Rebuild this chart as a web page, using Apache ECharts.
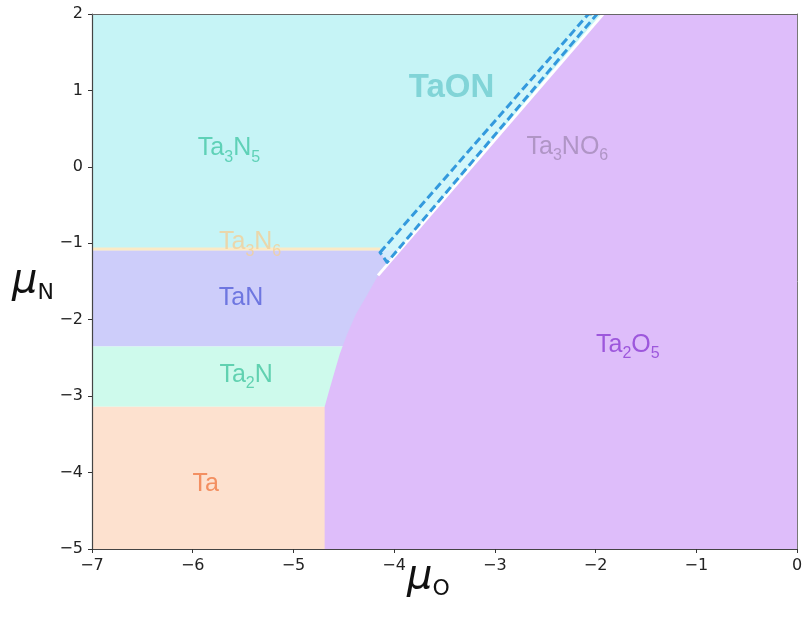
<!DOCTYPE html>
<html>
<head>
<meta charset="utf-8">
<script src="https://cdn.jsdelivr.net/npm/echarts@6/dist/echarts.min.js"></script>
<style>
  html, body { margin: 0; padding: 0; background: #ffffff; }
  #chart { width: 806px; height: 625px; }
</style>
</head>
<body>
<div id="chart"></div>
<script>
// Ta–N–O stability diagram in the (μO, μN) plane

// μN boundaries between the nitride bands (top to bottom)
const bandEdges = [2, -1.09, -2.35, -3.14, -5];
const bandPhases = ['Ta3N5', 'TaN', 'Ta2N', 'Ta'];
const bandColors = ['#c6f4f6', '#cdcdfa', '#cefaec', '#fde1cf'];

// Ta2O5 boundary, from the bottom edge up to the top edge
const oxideEdge = [
  [-4.69, -5], [-4.69, -3.14], [-4.65, -2.95], [-4.60, -2.72], [-4.54, -2.45],
  [-4.47, -2.20], [-4.38, -1.93], [-4.27, -1.68], [-4.16, -1.42], [-1.925, 2]
];
// white seam along the straight part of the oxide boundary
const oxideSeam = [[-4.16, -1.42], [-1.925, 2]];
// thin TaON sliver (dashed outline): tip, outer top, inner top, inner foot
const taonSliver = [[-4.14, -1.12], [-2.07, 2], [-1.985, 2], [-4.07, -1.25]];
// Ta3N6 thin strip along the Ta3N5 / TaN border
const ta3n6Strip = [[-7, -1.075], [-4.14, -1.075]];

// phase labels
const labelKeys = ['Ta3N5', 'TaON', 'Ta3NO6', 'Ta3N6', 'TaN', 'Ta2N', 'Ta2O5', 'Ta'];
const labelMuO  = [-5.64, -3.43, -2.28, -5.43, -5.52, -5.47, -1.68, -5.87];
const labelMuN  = [0.24, 1.03, 0.26, -0.99, -1.72, -2.72, -2.33, -4.15];

const labelStyle = {
  Ta3N5:  { color: '#45c8a8', text: 'Ta{s|3}N{s|5}', size: 25 },
  TaON:   { color: '#6fcccf', text: 'TaON', size: 33, bold: true },
  Ta3NO6: { color: '#a48bb8', text: 'Ta{s|3}NO{s|6}', size: 25 },
  Ta3N6:  { color: '#f2cf98', text: 'Ta{s|3}N{s|6}', size: 25 },
  TaN:    { color: '#5660da', text: 'TaN', size: 25 },
  Ta2N:   { color: '#45c7a1', text: 'Ta{s|2}N', size: 25 },
  Ta2O5:  { color: '#8c3dd4', text: 'Ta{s|2}O{s|5}', size: 25 },
  Ta:     { color: '#f07a45', text: 'Ta', size: 25 }
};

const minus = v => (v < 0 ? '\u2212' + Math.abs(v) : String(v));

function polygonSeries(points, style, z) {
  return {
    type: 'custom',
    coordinateSystem: 'cartesian2d',
    z: z,
    silent: true,
    clip: true,
    data: [0],
    renderItem: (params, api) => ({
      type: 'polygon',
      shape: { points: points.map(p => api.coord(p)) },
      style: style
    })
  };
}

function polylineSeries(points, style, z) {
  return {
    type: 'custom',
    coordinateSystem: 'cartesian2d',
    z: z,
    silent: true,
    clip: true,
    data: [0],
    renderItem: (params, api) => ({
      type: 'polyline',
      shape: { points: points.map(p => api.coord(p)) },
      style: Object.assign({ fill: null }, style)
    })
  };
}

const series = [];

// nitride bands
bandPhases.forEach((name, i) => {
  const top = bandEdges[i], bottom = bandEdges[i + 1];
  series.push(polygonSeries(
    [[-7, top], [0, top], [0, bottom], [-7, bottom]],
    { fill: bandColors[i] }, 1
  ));
});

// Ta2O5 field
series.push(polygonSeries(
  oxideEdge.concat([[0, 2], [0, -5]]),
  { fill: '#debdfa' }, 2
));

// Ta3N6 strip
series.push(polylineSeries(ta3n6Strip, { stroke: '#fbeac6', lineWidth: 3 }, 3));

// seam
series.push(polylineSeries(oxideSeam, { stroke: '#ffffff', lineWidth: 3 }, 3));

// TaON sliver
series.push(polygonSeries(taonSliver, {
  fill: 'rgba(215,248,252,0.7)',
  stroke: '#3399dd',
  lineWidth: 3,
  lineDash: [8, 4],
  lineJoin: 'round'
}, 4));

// labels
const richFor = key => {
  const s = labelStyle[key];
  return {
    b: { fontSize: s.size, color: s.color, fontFamily: 'Liberation Sans',
         fontWeight: s.bold ? 'bold' : 'normal', lineHeight: 34 },
    s: { fontSize: Math.round(s.size * 0.64), color: s.color, fontFamily: 'Liberation Sans',
         verticalAlign: 'bottom', lineHeight: 26 }
  };
};

series.push({
  type: 'scatter',
  z: 6,
  silent: true,
  symbolSize: 0,
  data: labelKeys.map((k, i) => ({
    value: [labelMuO[i], labelMuN[i]],
    label: {
      show: true,
      position: 'inside',
      formatter: '{b|' + labelStyle[k].text.replace(/\{s\|(\d)\}/g, '}{s|$1}{b|') + '}',
      rich: richFor(k)
    }
  }))
});

const axisFont = { fontFamily: 'DejaVu Sans', fontSize: 16, color: '#222' };

const option = {
  animation: false,
  backgroundColor: '#ffffff',
  grid: { left: 92, right: 9, top: 14, bottom: 76, containLabel: false },
  xAxis: [{
    type: 'value', min: -7, max: 0, interval: 1, z: 10,
    axisLine: { show: true, onZero: false, lineStyle: { color: '#444', width: 1.2 } },
    axisTick: { show: true, length: 4, lineStyle: { color: '#333' } },
    axisLabel: Object.assign({ margin: 9, formatter: minus }, axisFont),
    splitLine: { show: false }
  }, {
    type: 'value', min: -7, max: 0, position: 'top', z: 10,
    axisLine: { show: true, onZero: false, lineStyle: { color: '#666', width: 1.2 } },
    axisTick: { show: false }, axisLabel: { show: false }, splitLine: { show: false }
  }],
  yAxis: [{
    type: 'value', min: -5, max: 2, interval: 1, z: 10,
    axisLine: { show: true, onZero: false, lineStyle: { color: '#444', width: 1.2 } },
    axisTick: { show: true, length: 4, lineStyle: { color: '#333' } },
    axisLabel: Object.assign({ margin: 9, formatter: minus }, axisFont),
    splitLine: { show: false }
  }, {
    type: 'value', min: -5, max: 2, position: 'right', z: 10,
    axisLine: { show: true, onZero: false, lineStyle: { color: '#777', width: 1 } },
    axisTick: { show: false }, axisLabel: { show: false }, splitLine: { show: false }
  }],
  graphic: [{
    type: 'text', left: 12, top: 262, z: 20,
    style: {
      text: '{m|\u03bc}{n|N}',
      rich: {
        m: { fontSize: 40, fontStyle: 'italic', fontFamily: 'DejaVu Sans', fill: '#111', lineHeight: 44 },
        n: { fontSize: 22, fontFamily: 'DejaVu Sans', fill: '#111', verticalAlign: 'bottom', lineHeight: 34 }
      }
    }
  }, {
    type: 'text', left: 407, top: 558, z: 20,
    style: {
      text: '{m|\u03bc}{n|O}',
      rich: {
        m: { fontSize: 40, fontStyle: 'italic', fontFamily: 'DejaVu Sans', fill: '#111', lineHeight: 44 },
        n: { fontSize: 22, fontFamily: 'DejaVu Sans', fill: '#111', verticalAlign: 'bottom', lineHeight: 34 }
      }
    }
  }],
  series: series
};

const chart = echarts.init(document.getElementById('chart'), null, { renderer: 'canvas' });
chart.setOption(option);
</script>
</body>
</html>
